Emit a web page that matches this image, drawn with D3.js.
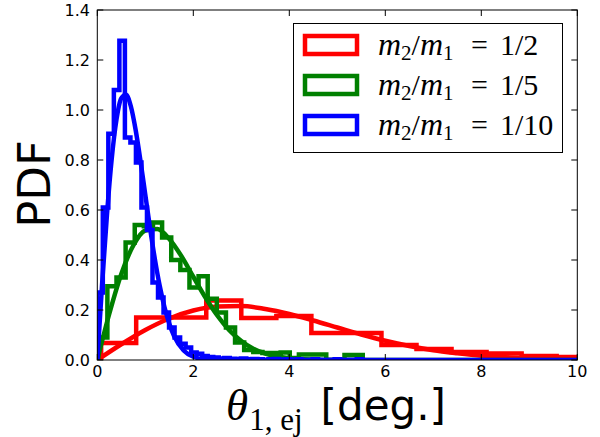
<!DOCTYPE html>
<html>
<head>
<meta charset="utf-8">
<script src="https://cdnjs.cloudflare.com/ajax/libs/d3/7.8.5/d3.min.js"></script>
<style>
body { margin: 0; background: #fff; }
</style>
</head>
<body>
<script>
// histogram + fit, three mass ratios

var w = 600, h = 437;
var padL = 97.3, padR = 577.3, padT = 10, padB = 360;
var lw = 4.5;

// series
var labels = ["1/2", "1/5", "1/10"];
var colors = ["#ff0000", "#008000", "#0000ff"];

// histograms: first edge, bin width, heights
var redStart = 0.08, redWidth = 0.73;
var redHist = [0.068, 0.17, 0.17, 0.238, 0.168, 0.176, 0.108, 0.108, 0.06, 0.044, 0.032, 0.026, 0.016, 0.012];

var greenStart = 0.02, greenWidth = 0.19;
var greenHist = [0.09, 0.295, 0.33, 0.47, 0.54, 0.535, 0.55, 0.49, 0.40, 0.36, 0.29, 0.335, 0.245, 0.19, 0.13,
	0.07, 0.04, 0.032, 0.028, 0.028, 0.03, 0.008, 0.022, 0.022, 0.022, 0.0, 0.0, 0.02, 0.02];

var blueStart = 0, blueWidth = 0.115;
var blueHist = [0.27, 0.61, 0.905, 1.08, 1.277, 0.89, 0.87, 0.79, 0.61, 0.52, 0.31, 0.25, 0.19, 0.13, 0.09,
	0.065, 0.05, 0.03, 0.025, 0.016, 0.012, 0.01, 0.006, 0.008, 0.005, 0.004, 0.006, 0.003, 0.004, 0.003,
	0.0, 0.003, 0.004, 0.0, 0.003, 0.0, 0.003, 0.0, 0.0, 0.003, 0.0, 0.0, 0.0, 0.003, 0.0, 0.0, 0.0, 0.003];

// fitted curves
var redCurveX = [0, 0.5, 1, 1.5, 2, 2.5, 3, 3.5, 4, 4.5, 5, 5.5, 6, 6.5, 7, 7.5, 8, 8.5, 9, 9.5, 10];
var redCurveY = [0, 0.063, 0.120, 0.166, 0.198, 0.214, 0.216, 0.204, 0.184, 0.158, 0.130, 0.102, 0.077, 0.056, 0.039, 0.027, 0.017, 0.011, 0.007, 0.004, 0.002];

var greenCurveX = [0, 0.25, 0.5, 0.75, 1.0, 1.25, 1.5, 1.75, 2.0, 2.25, 2.5, 2.75, 3.0, 3.25, 3.5, 4.0, 4.5, 5.0, 10];
var greenCurveY = [0, 0.185, 0.344, 0.458, 0.518, 0.524, 0.484, 0.416, 0.333, 0.251, 0.178, 0.119, 0.076, 0.045, 0.026, 0.007, 0.0015, 0, 0];

var blueCurveX = [0, 0.1, 0.2, 0.3, 0.4, 0.5, 0.6, 0.7, 0.8, 0.9, 1.0, 1.1, 1.2, 1.3, 1.4, 1.5, 1.6, 1.8, 2.0, 2.3, 2.6, 3.0, 10];
var blueCurveY = [0, 0.303, 0.578, 0.804, 0.962, 1.047, 1.061, 1.014, 0.919, 0.796, 0.661, 0.526, 0.403, 0.297, 0.211, 0.145, 0.096, 0.038, 0.013, 0.002, 0, 0, 0];

// axes
var xTicks = [0, 2, 4, 6, 8, 10];
var yTicks = [0.0, 0.2, 0.4, 0.6, 0.8, 1.0, 1.2, 1.4];

var svg = d3.select("body")
		.append("svg")
		.attr("width", w)
		.attr("height", h)
		.style("display", "block");

svg.append("rect").attr("width", w).attr("height", h).attr("fill", "white");

var x = d3.scaleLinear().domain([0, 10]).range([padL, padR]);
var y = d3.scaleLinear().domain([0, 1.4]).range([padB, padT]);

svg.append("clipPath").attr("id", "plotClip")
	.append("rect")
	.attr("x", padL).attr("y", padT)
	.attr("width", padR - padL).attr("height", padB - padT);

var plot = svg.append("g").attr("clip-path", "url(#plotClip)");

var line = d3.line().x(function(d) { return x(d[0]); }).y(function(d) { return y(d[1]); });
var smooth = d3.line().x(function(d) { return x(d[0]); }).y(function(d) { return y(d[1]); })
		.curve(d3.curveMonotoneX);

function stepPoints(start, width, vals) {
	var pts = [[start, 0]];
	for (var i = 0; i < vals.length; i++) {
		pts.push([start + i * width, vals[i]]);
		pts.push([start + (i + 1) * width, vals[i]]);
	}
	pts.push([start + vals.length * width, 0]);
	return pts;
}

var hists = [[redStart, redWidth, redHist], [greenStart, greenWidth, greenHist], [blueStart, blueWidth, blueHist]];
var curves = [[redCurveX, redCurveY], [greenCurveX, greenCurveY], [blueCurveX, blueCurveY]];

for (var s = 0; s < 3; s++) {
	plot.append("path")
		.attr("d", line(stepPoints(hists[s][0], hists[s][1], hists[s][2])))
		.attr("fill", "none")
		.attr("stroke", colors[s])
		.attr("stroke-width", lw)
		.attr("stroke-linejoin", "miter");
	var cp = curves[s][0].map(function(v, i) { return [v, curves[s][1][i]]; });
	plot.append("path")
		.attr("d", smooth(cp))
		.attr("fill", "none")
		.attr("stroke", colors[s])
		.attr("stroke-width", lw)
		.attr("stroke-linecap", "round");
}

// frame
svg.append("rect")
	.attr("x", padL).attr("y", padT)
	.attr("width", padR - padL).attr("height", padB - padT)
	.attr("fill", "none")
	.attr("stroke", "black")
	.attr("stroke-width", 1);

// ticks (inward, all four sides)
var tl = 6;
xTicks.forEach(function(t) {
	svg.append("line").attr("x1", x(t)).attr("x2", x(t)).attr("y1", padB).attr("y2", padB - tl).attr("stroke", "black");
	svg.append("line").attr("x1", x(t)).attr("x2", x(t)).attr("y1", padT).attr("y2", padT + tl).attr("stroke", "black");
	svg.append("text")
		.attr("x", x(t)).attr("y", 377)
		.attr("text-anchor", "middle")
		.attr("font-family", "DejaVu Sans")
		.attr("font-size", 16)
		.text(t);
});
yTicks.forEach(function(t) {
	svg.append("line").attr("x1", padL).attr("x2", padL + tl).attr("y1", y(t)).attr("y2", y(t)).attr("stroke", "black");
	svg.append("line").attr("x1", padR).attr("x2", padR - tl).attr("y1", y(t)).attr("y2", y(t)).attr("stroke", "black");
	svg.append("text")
		.attr("x", 90).attr("y", y(t) + 6)
		.attr("text-anchor", "end")
		.attr("font-family", "DejaVu Sans")
		.attr("font-size", 16)
		.text(t.toFixed(1));
});

// axis labels
svg.append("text")
	.attr("transform", "translate(50,184) rotate(-90)")
	.attr("text-anchor", "middle")
	.attr("font-family", "DejaVu Sans")
	.attr("font-size", 45)
	.text("PDF");

var xl = svg.append("text")
	.attr("x", 336).attr("y", 420)
	.attr("text-anchor", "middle");
xl.append("tspan")
	.attr("font-family", "Liberation Serif")
	.attr("font-style", "italic")
	.attr("font-size", 45)
	.text("θ");
xl.append("tspan")
	.attr("font-family", "Liberation Serif")
	.attr("font-size", 31)
	.attr("dy", 10)
	.attr("dx", 1)
	.text("1, ej");
xl.append("tspan")
	.attr("font-family", "DejaVu Sans")
	.attr("font-size", 42)
	.attr("dy", -10)
	.attr("dx", 18)
	.text("[deg.]");

// legend
var lg = svg.append("g");
lg.append("rect")
	.attr("x", 293.5).attr("y", 23.5)
	.attr("width", 269).attr("height", 129)
	.attr("fill", "white")
	.attr("stroke", "black")
	.attr("stroke-width", 1);
labels.forEach(function(lab, i) {
	var ry = 36 + i * 40;
	lg.append("rect")
		.attr("x", 305).attr("y", ry)
		.attr("width", 52).attr("height", 18)
		.attr("fill", "none")
		.attr("stroke", colors[i])
		.attr("stroke-width", lw);
	var t = lg.append("text")
		.attr("x", 378).attr("y", ry + 19)
		.attr("font-family", "Liberation Serif")
		.attr("font-size", 30);
	t.append("tspan").attr("font-style", "italic").attr("font-size", 32).text("m");
	t.append("tspan").attr("font-size", 21).attr("dy", 5).text("2");
	t.append("tspan").attr("dy", -5).text("/");
	t.append("tspan").attr("font-style", "italic").attr("font-size", 32).text("m");
	t.append("tspan").attr("font-size", 21).attr("dy", 5).text("1");
	t.append("tspan").attr("dy", -5).attr("x", 471).text("=");
	t.append("tspan").attr("x", 500).text(lab);
});
</script>
</body>
</html>
